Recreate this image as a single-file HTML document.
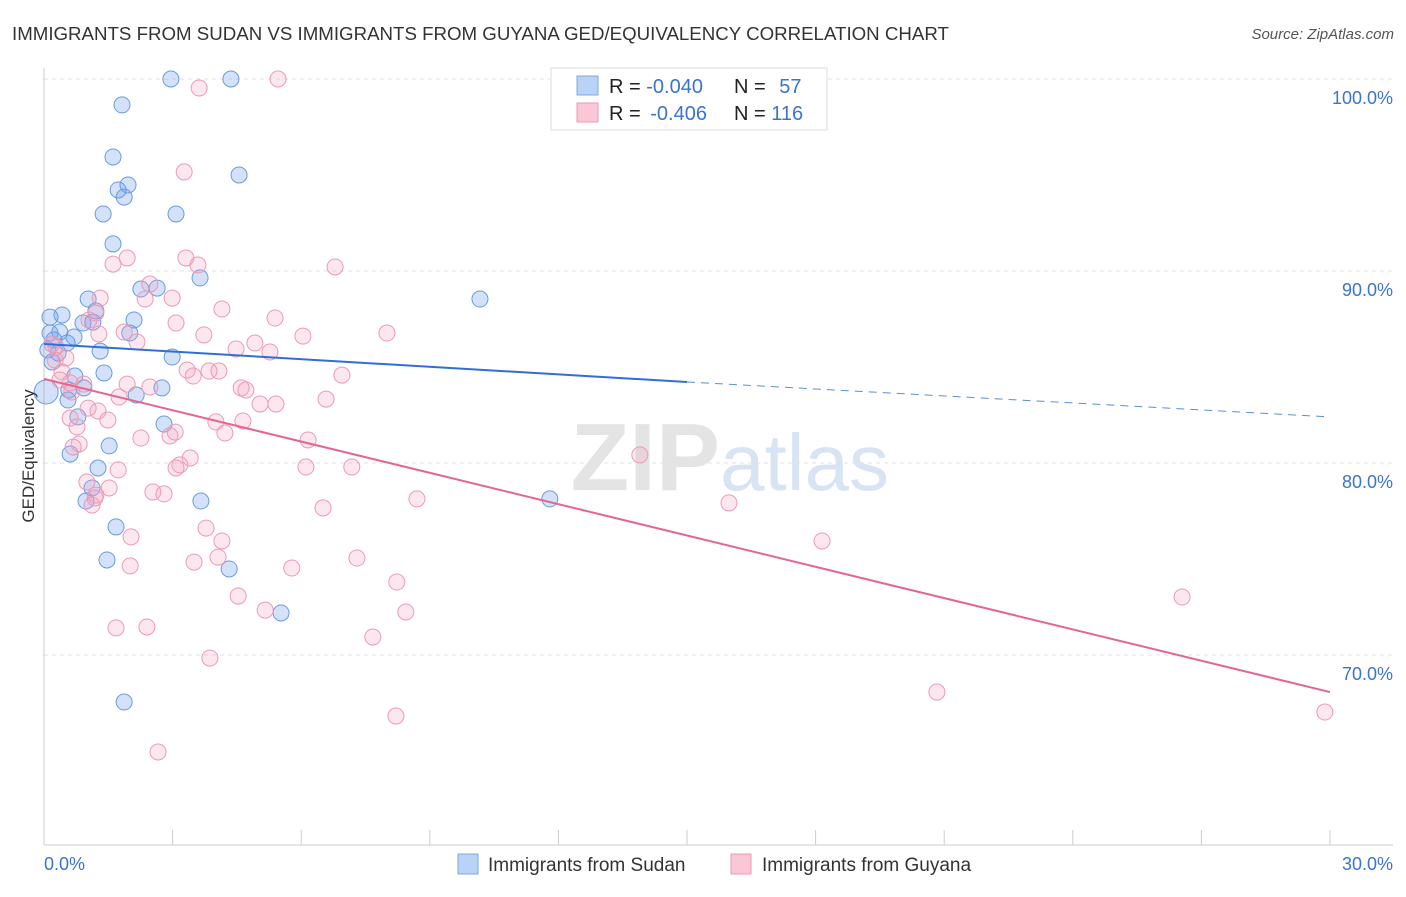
<!DOCTYPE html>
<html><head><meta charset="utf-8"><style>
body{margin:0;background:#fff;font-family:"Liberation Sans",sans-serif;}
svg text{font-family:"Liberation Sans",sans-serif;}
</style></head><body>
<svg id="chart" width="1406" height="892" xmlns="http://www.w3.org/2000/svg">
<text x="12" y="40" font-size="18.7" fill="#333">IMMIGRANTS FROM SUDAN VS IMMIGRANTS FROM GUYANA GED/EQUIVALENCY CORRELATION CHART</text>
<text x="1394" y="39" font-size="15" fill="#555" text-anchor="end" font-style="italic">Source: ZipAtlas.com</text>
<text x="720" y="490" font-size="96" fill="#e4e4e4" text-anchor="end" font-family="Liberation Serif" font-weight="bold">ZIP</text>
<text x="720" y="490" font-size="80" fill="#d8e4f4">atlas</text>
<g id="grid"></g>
<g id="axes"></g>
<g id="pts"></g>
<g id="lines"></g>
<text transform="translate(34,456) rotate(-90)" font-size="17" fill="#333" text-anchor="middle">GED/Equivalency</text>
<g>
<rect x="551" y="68" width="276" height="62" fill="#fff" stroke="#ddd"/>
<rect x="577" y="76" width="21" height="19" fill="#b8d3f5" stroke="#7ea8e0"/>
<rect x="577" y="103" width="21" height="19" fill="#fbc6d6" stroke="#eb9ab4"/>
<text x="609" y="93" font-size="20" fill="#222">R = <tspan fill="#3a73d1">-0.040</tspan></text>
<text x="734" y="93" font-size="20" fill="#222">N = <tspan fill="#3a73d1" dx="8">57</tspan></text>
<text x="609" y="120" font-size="20" fill="#222">R = <tspan fill="#3a73d1" dx="4">-0.406</tspan></text>
<text x="734" y="120" font-size="20" fill="#222">N = <tspan fill="#3a73d1">116</tspan></text>
</g>
<g>
<rect x="458" y="854" width="20" height="20" fill="#b8d3f5" stroke="#7ea8e0"/>
<text x="488" y="871" font-size="19" fill="#333">Immigrants from Sudan</text>
<rect x="731" y="854" width="20" height="20" fill="#fbc6d6" stroke="#eb9ab4"/>
<text x="762" y="871" font-size="19" fill="#333">Immigrants from Guyana</text>
</g>
</svg>
<script>
const yTicks=[100,90,80,70];
const yTickLabels=["100.0%","90.0%","80.0%","70.0%"];
const xTickLabels=["0.0%","30.0%"];
const sudanX=[2.96,4.36,1.82,1.61,1.73,1.96,1.87,4.55,1.38,3.08,1.61,3.64,1.03,2.26,2.64,10.17,0.14,0.42,1.21,0.91,1.14,2.1,0.14,0.37,0.7,2.0,0.23,0.54,0.09,1.31,0.33,2.99,0.19,0.72,1.4,0.93,2.75,2.15,0.56,0.79,2.8,1.52,0.61,1.26,1.12,0.98,3.66,11.8,1.68,1.47,4.32,5.53,1.87,0.05,0.58];
const sudanY=[100,100,98.65,95.94,94.22,94.48,93.85,95.0,92.97,92.97,91.41,89.64,88.54,89.06,89.11,88.54,87.6,87.71,87.92,87.29,87.34,87.45,86.77,86.82,86.56,86.77,86.41,86.25,85.89,85.83,85.73,85.52,85.26,84.53,84.69,83.91,83.91,83.54,83.28,82.4,82.03,80.89,80.47,79.74,78.7,78.02,78.02,78.13,76.67,74.95,74.48,72.19,67.55,83.7,83.8];
const guyanaX=[3.62,5.46,3.27,1.61,1.94,3.31,3.59,6.79,1.31,2.47,2.36,2.99,4.15,5.39,8.0,6.04,3.73,3.08,1.21,1.05,1.28,1.87,2.17,4.48,4.92,5.27,3.34,3.85,4.08,3.48,6.95,0.19,0.28,0.51,0.42,0.61,0.93,1.94,2.47,4.6,4.71,1.75,1.03,1.26,1.49,4.01,4.64,6.58,5.04,5.41,0.61,0.77,0.82,0.68,2.26,2.94,3.06,4.22,6.16,3.41,3.17,3.08,6.11,7.18,13.9,1.0,1.52,1.73,1.21,1.12,2.54,2.8,8.7,6.51,15.98,3.78,4.15,2.03,2.01,3.5,4.06,5.78,7.3,18.15,8.23,4.53,5.16,8.44,1.68,2.4,7.67,3.87,20.83,8.21,2.66,29.88,26.55,0.65,1.19,0.26,0.37];
const guyanaY=[99.53,100,95.16,90.36,90.68,90.68,90.31,90.21,88.59,89.32,88.54,88.59,88.02,87.55,86.77,86.61,86.67,87.29,87.81,87.45,86.72,86.82,86.3,85.94,86.25,85.78,84.84,84.79,84.79,84.53,84.58,86.2,86.04,85.47,84.74,84.17,84.11,84.11,83.96,83.91,83.8,83.44,82.86,82.71,82.24,82.14,82.19,83.33,83.07,83.07,82.34,81.88,80.99,80.83,81.3,81.41,81.61,81.56,81.2,80.26,79.9,79.74,79.79,79.79,80.42,79.01,78.7,79.64,78.33,77.81,78.49,78.39,78.13,77.66,77.92,76.61,75.94,76.15,74.64,74.84,75.1,74.53,75.05,75.94,73.8,73.07,72.34,72.24,71.41,71.46,70.94,69.84,68.07,66.82,64.95,67.03,73.02,83.7,78.18,85.36,84.32];
const sudanLine=[86.2,84.22,82.4];   // values at x=0,15,30
const guyanaLine=[84.38,68.07];      // values at x=0,30

const NS="http://www.w3.org/2000/svg";
const X=v=>44+v*(1286/30);
const Y=v=>79+(100-v)*19.2;
function mk(tag,attrs,parent){const e=document.createElementNS(NS,tag);for(const k in attrs)e.setAttribute(k,attrs[k]);document.getElementById(parent).appendChild(e);return e;}

yTicks.forEach((t,i)=>{
 const l=mk('line',{x1:44,x2:1393,y1:Y(t),y2:Y(t),stroke:'#e2e2e2','stroke-dasharray':'4,4'},'grid');
 
 
 const tx=mk('text',{x:1393,y:Y(t)+25,'font-size':18,fill:'#3a73d1','text-anchor':'end'},'grid');
 tx.textContent=yTickLabels[i];
 
 
});
let ax=mk('line',{x1:44,x2:44,y1:68,y2:845,stroke:'#ccc'},'axes');


ax=mk('line',{x1:44,x2:1393,y1:845,y2:845,stroke:'#ccc'},'axes');


for(let i=0;i<=10;i++){
 const t=mk('line',{x1:X(i*3),x2:X(i*3),y1:830,y2:845,stroke:'#ccc'},'axes');
 
 
}
[[0,'start',44],[30,'end',1393]].forEach((d,i)=>{
 const tx=mk('text',{x:d[2],y:870,'font-size':18,fill:'#3a73d1','text-anchor':d[1]},'axes');
 tx.textContent=xTickLabels[i];
 
 
});
sudanX.forEach((v,i)=>{
 const c=mk('circle',{cx:X(v),cy:Y(sudanY[i]),r:i==53?12:8,fill:'rgba(110,160,235,0.3)',stroke:'#6a9be0','stroke-width':1},'pts');
 
 
});
guyanaX.forEach((v,i)=>{
 const c=mk('circle',{cx:X(v),cy:Y(guyanaY[i]),r:8,fill:'rgba(245,160,190,0.25)',stroke:'#ec9ab5','stroke-width':1},'pts');
 
 
});
let l=mk('line',{x1:X(0),y1:Y(sudanLine[0]),x2:X(15),y2:Y(sudanLine[1]),stroke:'#2f6fd6','stroke-width':2},'lines');


l=mk('line',{x1:X(15),y1:Y(sudanLine[1]),x2:X(30),y2:Y(sudanLine[2]),stroke:'#5b8fd6','stroke-width':1,'stroke-dasharray':'8,6'},'lines');


l=mk('line',{x1:X(0),y1:Y(guyanaLine[0]),x2:X(30),y2:Y(guyanaLine[1]),stroke:'#e4668f','stroke-width':2},'lines');


</script>
</body></html>
